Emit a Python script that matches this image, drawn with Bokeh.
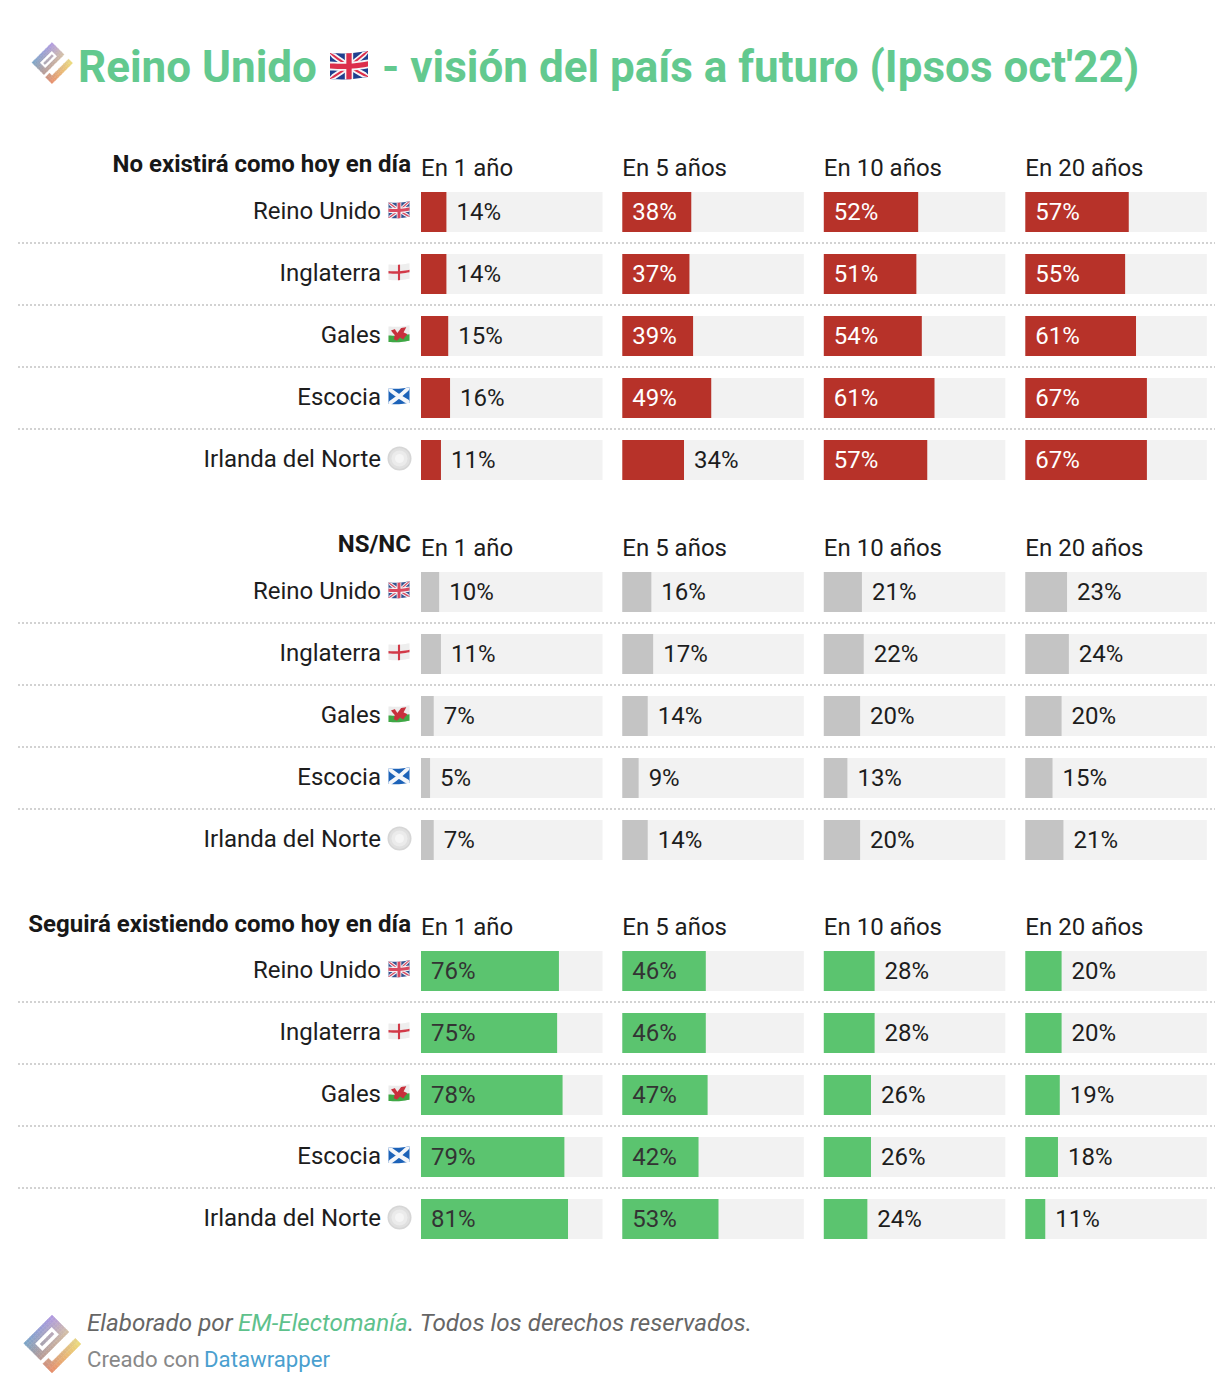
import math

from bokeh.plotting import figure
from bokeh.models import Range1d
from bokeh.core.properties import value
from bokeh.embed import file_html
from bokeh.resources import INLINE

# ---------- data ----------
title = "Reino Unido"
title_rest = "- visión del país a futuro (Ipsos oct'22)"
nations = ["Reino Unido", "Inglaterra", "Gales", "Escocia", "Irlanda del Norte"]
periods = ["En 1 año", "En 5 años", "En 10 años", "En 20 años"]
sections = ["No existirá como hoy en día", "NS/NC", "Seguirá existiendo como hoy en día"]
no_existira = [[14, 38, 52, 57], [14, 37, 51, 55], [15, 39, 54, 61], [16, 49, 61, 67], [11, 34, 57, 67]]
ns_nc = [[10, 16, 21, 23], [11, 17, 22, 24], [7, 14, 20, 20], [5, 9, 13, 15], [7, 14, 20, 21]]
seguira = [[76, 46, 28, 20], [75, 46, 28, 20], [78, 47, 26, 19], [79, 42, 26, 18], [81, 53, 24, 11]]
tables = [no_existira, ns_nc, seguira]

# ---------- styles and layout ----------
FONT = value("Roboto")
BAR_COLORS = ["#b73229", "#c4c4c4", "#5bc46f"]
TRACK = "#f2f2f2"
INK = "#1d1d1d"
GREEN = "#63c98f"
COL_X = [421, 622.3, 823.8, 1025.3]
COL_W = 181.5
SEC_Y = [192, 572, 951]
HEAD_Y = [167.5, 547.5, 926.5]
SEC_LABEL_Y = [163.5, 543.5, 923.5]
ROW = 62
BAR_H = 40
INSIDE_MIN = 37

p = figure(width=1218, height=1380, x_range=Range1d(0.5, 1218.5), y_range=Range1d(1380.5, 0.5),
           output_backend="svg", toolbar_location=None, min_border=0,
           x_axis_location=None, y_axis_location=None)
p.outline_line_color = None
p.grid.visible = False
p.axis.visible = False
p.background_fill_color = "#ffffff"
p.border_fill_color = "#ffffff"


def txt(x, y, s, size, color=INK, align="left", style="normal", baseline="middle"):
    p.text([x], [y], text=[s], text_font=FONT, text_font_size=value(f"{size}px"),
           text_color=color, text_align=align, text_baseline=baseline, text_font_style=style)


def lerp(a, b, t):
    return a + (b - a) * t


def mix(c0, c1, t):
    return tuple(lerp(a, b, t) for a, b in zip(c0, c1))


def logo(top_x, top_y, s):
    """Draw the rotated gradient mark from (u, v) rectangles."""
    k = s * 0.7071
    pos = lambda u, v: (top_x + (u - v) * k, top_y + (u + v) * k)
    c00, c01 = (176, 150, 228), (115, 165, 200)
    c10, c11 = (238, 224, 118), (236, 140, 104)

    def colour(u, v):
        c = mix(mix(c00, c01, v / 41), mix(c10, c11, v / 41), u / 41)
        return "#%02x%02x%02x" % tuple(int(round(x)) for x in c)

    def block(u0, u1, v0, v1, fixed=None, step=3):
        xs, ys, cs = [], [], []
        nu = max(1, int((u1 - u0) / step))
        nv = max(1, int((v1 - v0) / step))
        for i in range(nu):
            for j in range(nv):
                a, b = u0 + (u1 - u0) * i / nu, u0 + (u1 - u0) * (i + 1) / nu
                c, d = v0 + (v1 - v0) * j / nv, v0 + (v1 - v0) * (j + 1) / nv
                pts = [pos(a, c), pos(b, c), pos(b, d), pos(a, d)]
                xs.append([q[0] for q in pts])
                ys.append([q[1] for q in pts])
                cs.append(fixed or colour((a + b) / 2, (c + d) / 2))
        p.patches(xs, ys, fill_color=cs, line_color=cs, line_width=0.4)

    block(0, 24, 0, 40)
    block(8.5, 18.5, 9, 32, fixed="#ffffff", step=30)
    block(12, 15, 12, 29)
    block(33, 41, 0, 41)
    block(28, 33, 33, 41)


class Flag:
    """Flag parts given in unit coordinates, bent into the waving emoji shape."""

    def __init__(self, x, y, w, h):
        self.x, self.y, self.w, self.h = x, y, w, h

    def poly(self, pts, color):
        xs, ys = [], []
        n = len(pts)
        for i in range(n):
            (a, b), (c, d) = pts[i], pts[(i + 1) % n]
            for t in range(10):
                u, v = lerp(a, c, t / 10), lerp(b, d, t / 10)
                u, v = max(0, min(1, u)), max(0, min(1, v))
                xs.append(self.x + u * self.w)
                ys.append(self.y + self.h * (v + 0.05 * math.sin(math.pi * u) - 0.08 * u))
        p.patch(xs, ys, fill_color=color, line_color=None)

    def rect(self, u0, v0, u1, v1, color):
        self.poly([(u0, v0), (u1, v0), (u1, v1), (u0, v1)], color)

    def band(self, a, b, c, d, t, color):
        dx, dy = (c - a) * self.w, (d - b) * self.h
        ln = math.hypot(dx, dy)
        nx, ny = -dy / ln * t * self.h / self.w, dx / ln * t
        self.poly([(a + nx, b + ny), (c + nx, d + ny), (c - nx, d - ny), (a - nx, b - ny)], color)


def flag_uk(x, y, w, h, blue="#34528f", red="#d84a60", white="#f2f2f6"):
    f = Flag(x, y, w, h)
    f.rect(0, 0, 1, 1, blue)
    f.band(0, 0, 1, 1, 0.11, white)
    f.band(0, 1, 1, 0, 0.11, white)
    f.band(0, 0, 1, 1, 0.04, red)
    f.band(0, 1, 1, 0, 0.04, red)
    f.rect(0.39, 0, 0.61, 1, white)
    f.rect(0, 0.33, 1, 0.67, white)
    f.rect(0.43, 0, 0.57, 1, red)
    f.rect(0, 0.40, 1, 0.60, red)


def flag_england(x, y, w, h):
    f = Flag(x, y, w, h)
    f.rect(0, 0, 1, 1, "#eeeeee")
    f.rect(0.45, 0, 0.55, 1, "#d23a48")
    f.rect(0, 0.42, 1, 0.58, "#d23a48")


def flag_wales(x, y, w, h):
    f = Flag(x, y, w, h)
    f.rect(0, 0, 1, 1, "#ececec")
    f.rect(0, 0.58, 1, 1, "#3fa845")
    f.poly([(0.12, 0.25), (0.3, 0.15), (0.42, 0.4), (0.6, 0.1), (0.85, 0.08), (0.72, 0.4), (0.9, 0.55),
            (0.7, 0.85), (0.55, 0.7), (0.4, 0.9), (0.25, 0.8), (0.3, 0.55)], "#c8303c")


def flag_scotland(x, y, w, h):
    f = Flag(x, y, w, h)
    f.rect(0, 0, 1, 1, "#1c62b8")
    f.band(0, 0, 1, 1, 0.13, "#f4f6fa")
    f.band(0, 1, 1, 0, 0.13, "#f4f6fa")


def ball(cx, cy):
    for d, c in zip([24, 21, 16, 9], ["#d6d6d6", "#e0e0e0", "#ebebeb", "#f5f5f5"]):
        p.scatter([cx], [cy], size=d, marker="circle", fill_color=c, line_color=None)


# ---------- header ----------
logo(52, 42.5, 0.71)
txt(78, 67, title, 44, GREEN, style="bold")
flag_uk(330, 53, 38, 26, blue="#1f3f8f", red="#dc2f4c", white="#f6f6f8")
txt(382, 67, title_rest, 44, GREEN, style="bold")

# ---------- tables ----------
flags = [flag_uk, flag_england, flag_wales, flag_scotland, None]
for s, table in enumerate(tables):
    txt(411, SEC_LABEL_Y[s], sections[s], 24, "#181818", align="right", style="bold")
    for c, per in enumerate(periods):
        txt(COL_X[c], HEAD_Y[s], per, 24)
    for r, name in enumerate(nations):
        top = SEC_Y[s] + r * ROW
        mid = top + BAR_H / 2
        txt(381, mid - 1, name, 24, align="right")
        if flags[r]:
            flags[r](388.5, mid - 9.5, 21, 15.5)
        else:
            ball(399.5, mid - 1.5)
        if r < len(nations) - 1:
            p.segment([18], [top + 51], [1215], [top + 51], line_color="#d2d2d2", line_width=2, line_dash="2 2")
        for c, v in enumerate(table[r]):
            x0 = COL_X[c]
            x1 = x0 + v * COL_W / 100
            p.quad(left=[x0], right=[x0 + COL_W], top=[top], bottom=[top + BAR_H], fill_color=TRACK, line_color=None)
            p.quad(left=[x0], right=[x1], top=[top], bottom=[top + BAR_H], fill_color=BAR_COLORS[s], line_color=None)
            label = f"{v}%"
            if s != 1 and v >= INSIDE_MIN:
                txt(x0 + 10, mid - 0.5, label, 24, "#ffffff" if s == 0 else "#333333")
            else:
                txt(x1 + 10, mid - 0.5, label, 24)

# ---------- footer ----------
logo(52, 1315, 1.0)
txt(87, 1322.5, "Elaborado por ", 24.2, "#666666", style="italic")
txt(238, 1322.5, "EM-Electomanía", 24.2, "#5ec18c", style="italic")
txt(408, 1322.5, ". Todos los derechos reservados.", 24.2, "#666666", style="italic")
txt(87, 1359, "Creado con", 22.2, "#888888")
txt(204, 1359, "Datawrapper", 22.2, "#4a9fcf")

open("out.html", "w").write(file_html(p, INLINE))
